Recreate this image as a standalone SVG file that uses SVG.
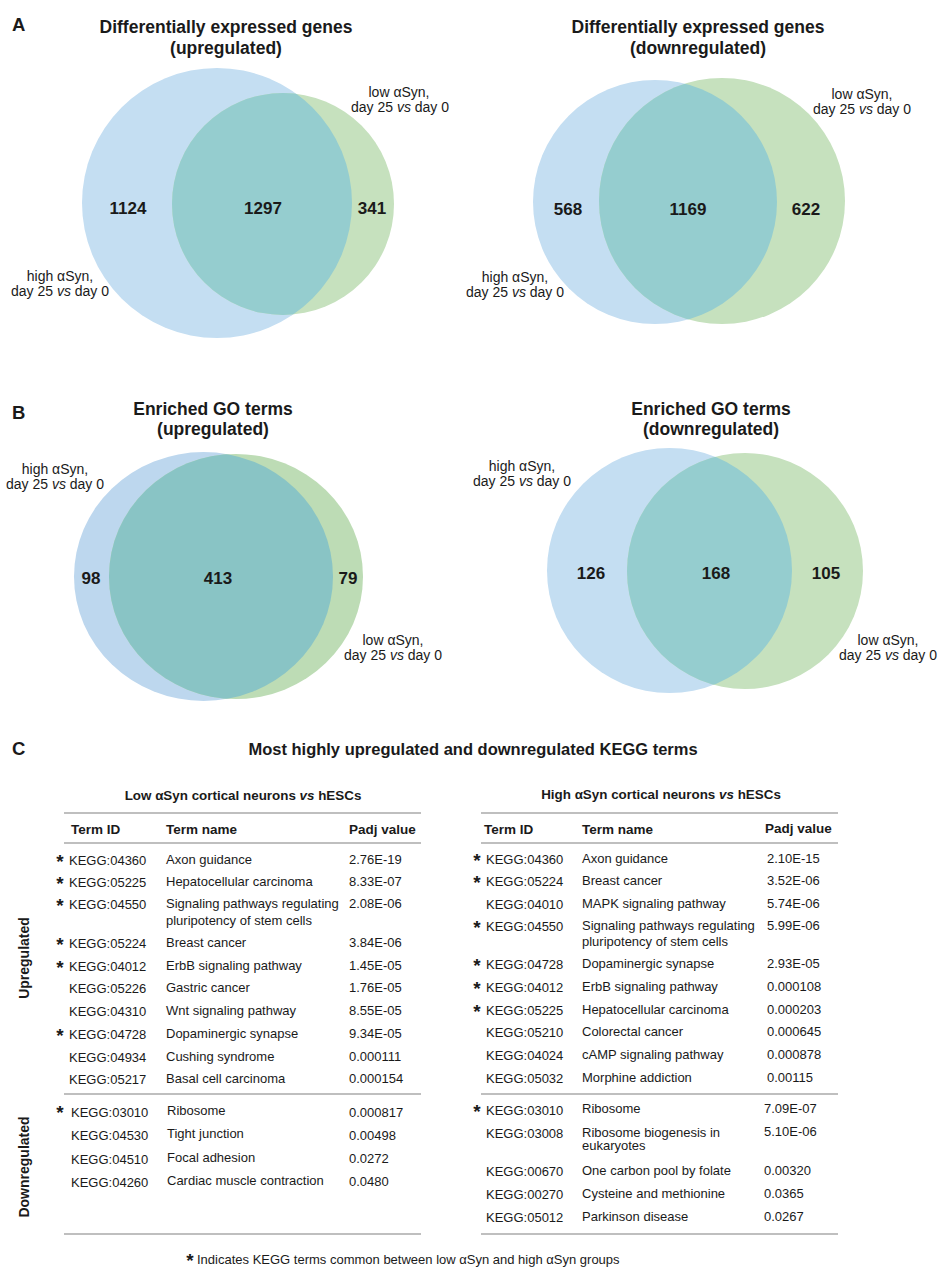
<svg xmlns="http://www.w3.org/2000/svg" width="948" height="1278" viewBox="0 0 948 1278">
<style>
text{font-family:"Liberation Sans",Arial,sans-serif;fill:#1a1a1a}
.ttl{font-size:17.5px;font-weight:bold;text-anchor:middle}
.let{font-size:18.5px;font-weight:bold}
.num{font-size:17px;font-weight:bold;text-anchor:middle}
.lab{font-size:14px;text-anchor:middle}
.sub{font-size:13.4px;font-weight:bold;text-anchor:middle}
.hd{font-size:13.5px;font-weight:bold}
.r{font-size:13px}
.st{font-size:19px;font-weight:bold;text-anchor:middle}
.vl{font-size:14px;font-weight:bold;text-anchor:middle}
.blue{fill:#c4def2}
.green{fill:#c6e1be}
.mid{fill:#95cdcf}
.rule{stroke:#aaaaaa;stroke-width:1.5;fill:none}
</style>
<defs>
<clipPath id="cA1"><circle cx="283" cy="204" r="111"/></clipPath>
<clipPath id="cA2"><circle cx="722" cy="201" r="123"/></clipPath>
<clipPath id="cB1"><ellipse cx="236" cy="576.5" rx="127" ry="122.5"/></clipPath>
<clipPath id="cB2"><circle cx="745" cy="571" r="118"/></clipPath>
</defs>
<rect width="948" height="1278" fill="#ffffff"/>

<g id="panelA-up">
<text class="let" x="12" y="31">A</text>
<text class="ttl" x="226" y="33">Differentially expressed genes</text>
<text class="ttl" x="226" y="54">(upregulated)</text>
<circle class="blue" cx="217" cy="203" r="135"/>
<circle class="green" cx="283" cy="204" r="111"/>
<circle class="mid" cx="217" cy="203" r="135" clip-path="url(#cA1)"/>
<text class="num" x="128" y="214">1124</text>
<text class="num" x="263" y="214">1297</text>
<text class="num" x="372" y="214">341</text>
<text class="lab" x="399" y="97">low αSyn,</text>
<text class="lab" x="400" y="112">day 25 <tspan font-style="italic">vs</tspan> day 0</text>
<text class="lab" x="60" y="281">high αSyn,</text>
<text class="lab" x="60" y="296">day 25 <tspan font-style="italic">vs</tspan> day 0</text>
</g>

<g id="panelA-down">
<text class="ttl" x="698" y="33">Differentially expressed genes</text>
<text class="ttl" x="698" y="54">(downregulated)</text>
<circle class="blue" cx="655" cy="202" r="122"/>
<circle class="green" cx="722" cy="201" r="123"/>
<circle class="mid" cx="655" cy="202" r="122" clip-path="url(#cA2)"/>
<text class="num" x="568" y="215">568</text>
<text class="num" x="688" y="215">1169</text>
<text class="num" x="806" y="215">622</text>
<text class="lab" x="862" y="99">low αSyn,</text>
<text class="lab" x="862" y="114">day 25 <tspan font-style="italic">vs</tspan> day 0</text>
<text class="lab" x="515" y="282">high αSyn,</text>
<text class="lab" x="515" y="297">day 25 <tspan font-style="italic">vs</tspan> day 0</text>
</g>

<g id="panelB-up">
<text class="let" x="12" y="419">B</text>
<text class="ttl" x="213" y="415">Enriched GO terms</text>
<text class="ttl" x="213" y="435">(upregulated)</text>
<ellipse cx="203.5" cy="576.5" rx="129.5" ry="124.5" fill="#bdd7ee"/>
<ellipse cx="236" cy="576.5" rx="127" ry="122.5" fill="#bddcb5"/>
<ellipse cx="203.5" cy="576.5" rx="129.5" ry="124.5" fill="#89c4c5" clip-path="url(#cB1)"/>
<text class="num" x="91" y="584">98</text>
<text class="num" x="218" y="584">413</text>
<text class="num" x="348" y="584">79</text>
<text class="lab" x="55" y="474">high αSyn,</text>
<text class="lab" x="55" y="489">day 25 <tspan font-style="italic">vs</tspan> day 0</text>
<text class="lab" x="393" y="645">low αSyn,</text>
<text class="lab" x="393" y="660">day 25 <tspan font-style="italic">vs</tspan> day 0</text>
</g>

<g id="panelB-down">
<text class="ttl" x="711" y="415">Enriched GO terms</text>
<text class="ttl" x="711" y="435">(downregulated)</text>
<circle class="blue" cx="669.5" cy="570.5" r="122.5"/>
<circle class="green" cx="745" cy="571" r="118"/>
<circle class="mid" cx="669.5" cy="570.5" r="122.5" clip-path="url(#cB2)"/>
<text class="num" x="591" y="579">126</text>
<text class="num" x="716" y="579">168</text>
<text class="num" x="826" y="579">105</text>
<text class="lab" x="522" y="471">high αSyn,</text>
<text class="lab" x="522" y="486">day 25 <tspan font-style="italic">vs</tspan> day 0</text>
<text class="lab" x="888" y="645">low αSyn,</text>
<text class="lab" x="888" y="660">day 25 <tspan font-style="italic">vs</tspan> day 0</text>
</g>

<g id="panelC-header">
<text class="let" x="12" y="755">C</text>
<text x="473" y="755" font-size="16.5" font-weight="bold" text-anchor="middle">Most highly upregulated and downregulated KEGG terms</text>
<text class="vl" transform="translate(29,958) rotate(-90)">Upregulated</text>
<text class="vl" transform="translate(29,1167) rotate(-90)">Downregulated</text>
</g>

<g id="table-low">
<text class="sub" x="243" y="800">Low αSyn cortical neurons <tspan font-style="italic">vs</tspan> hESCs</text>
<line class="rule" x1="64" y1="813" x2="421" y2="813"/>
<text class="hd" x="71" y="834">Term ID</text>
<text class="hd" x="166" y="834">Term name</text>
<text class="hd" x="349" y="834">Padj value</text>
<line class="rule" x1="64" y1="843" x2="421" y2="843"/>
<g class="r">
<text class="st" x="60" y="868">*</text><text class="r" x="69" y="865">KEGG:04360</text><text class="r" x="166" y="864">Axon guidance</text><text class="r" x="349" y="864">2.76E-19</text>
<text class="st" x="60" y="890">*</text><text class="r" x="69" y="887">KEGG:05225</text><text class="r" x="166" y="886">Hepatocellular carcinoma</text><text class="r" x="349" y="886">8.33E-07</text>
<text class="st" x="60" y="912">*</text><text class="r" x="69" y="909">KEGG:04550</text><text class="r" x="166" y="908">Signaling pathways regulating</text><text class="r" x="166" y="925">pluripotency of stem cells</text><text class="r" x="349" y="908">2.08E-06</text>
<text class="st" x="60" y="951">*</text><text class="r" x="69" y="948">KEGG:05224</text><text class="r" x="166" y="947">Breast cancer</text><text class="r" x="349" y="947">3.84E-06</text>
<text class="st" x="60" y="974">*</text><text class="r" x="69" y="971">KEGG:04012</text><text class="r" x="166" y="970">ErbB signaling pathway</text><text class="r" x="349" y="970">1.45E-05</text>
<text class="r" x="69" y="993">KEGG:05226</text><text class="r" x="166" y="992">Gastric cancer</text><text class="r" x="349" y="992">1.76E-05</text>
<text class="r" x="69" y="1016">KEGG:04310</text><text class="r" x="166" y="1015">Wnt signaling pathway</text><text class="r" x="349" y="1015">8.55E-05</text>
<text class="st" x="60" y="1042">*</text><text class="r" x="69" y="1039">KEGG:04728</text><text class="r" x="166" y="1038">Dopaminergic synapse</text><text class="r" x="349" y="1038">9.34E-05</text>
<text class="r" x="69" y="1062">KEGG:04934</text><text class="r" x="166" y="1061">Cushing syndrome</text><text class="r" x="349" y="1061">0.000111</text>
<text class="r" x="69" y="1084">KEGG:05217</text><text class="r" x="166" y="1083">Basal cell carcinoma</text><text class="r" x="349" y="1083">0.000154</text>
</g>
<line class="rule" x1="64" y1="1094" x2="421" y2="1094"/>
<g class="r">
<text class="st" x="60" y="1119">*</text><text class="r" x="71" y="1117">KEGG:03010</text><text class="r" x="167" y="1115">Ribosome</text><text class="r" x="349" y="1117">0.000817</text>
<text class="r" x="71" y="1140">KEGG:04530</text><text class="r" x="167" y="1138">Tight junction</text><text class="r" x="349" y="1140">0.00498</text>
<text class="r" x="71" y="1164">KEGG:04510</text><text class="r" x="167" y="1162">Focal adhesion</text><text class="r" x="349" y="1163">0.0272</text>
<text class="r" x="71" y="1187">KEGG:04260</text><text class="r" x="167" y="1185">Cardiac muscle contraction</text><text class="r" x="349" y="1186">0.0480</text>
</g>
<line class="rule" x1="64" y1="1234" x2="421" y2="1234"/>
</g>

<g id="table-high">
<text class="sub" x="661" y="799">High αSyn cortical neurons <tspan font-style="italic">vs</tspan> hESCs</text>
<line class="rule" x1="481" y1="813" x2="838" y2="813"/>
<text class="hd" x="484" y="834">Term ID</text>
<text class="hd" x="582" y="834">Term name</text>
<text class="hd" x="765" y="833">Padj value</text>
<line class="rule" x1="481" y1="843" x2="838" y2="843"/>
<g class="r">
<text class="st" x="477" y="867">*</text><text class="r" x="486" y="864">KEGG:04360</text><text class="r" x="582" y="863">Axon guidance</text><text class="r" x="767" y="863">2.10E-15</text>
<text class="st" x="477" y="889">*</text><text class="r" x="486" y="886">KEGG:05224</text><text class="r" x="582" y="885">Breast cancer</text><text class="r" x="767" y="885">3.52E-06</text>
<text class="r" x="486" y="909">KEGG:04010</text><text class="r" x="582" y="908">MAPK signaling pathway</text><text class="r" x="767" y="908">5.74E-06</text>
<text class="st" x="477" y="934">*</text><text class="r" x="486" y="931">KEGG:04550</text><text class="r" x="582" y="930">Signaling pathways regulating</text><text class="r" x="582" y="946">pluripotency of stem cells</text><text class="r" x="767" y="930">5.99E-06</text>
<text class="st" x="477" y="972">*</text><text class="r" x="486" y="969">KEGG:04728</text><text class="r" x="582" y="968">Dopaminergic synapse</text><text class="r" x="767" y="968">2.93E-05</text>
<text class="st" x="477" y="995">*</text><text class="r" x="486" y="992">KEGG:04012</text><text class="r" x="582" y="991">ErbB signaling pathway</text><text class="r" x="767" y="991">0.000108</text>
<text class="st" x="477" y="1018">*</text><text class="r" x="486" y="1015">KEGG:05225</text><text class="r" x="582" y="1014">Hepatocellular carcinoma</text><text class="r" x="767" y="1014">0.000203</text>
<text class="r" x="486" y="1037">KEGG:05210</text><text class="r" x="582" y="1036">Colorectal cancer</text><text class="r" x="767" y="1036">0.000645</text>
<text class="r" x="486" y="1060">KEGG:04024</text><text class="r" x="582" y="1059">cAMP signaling pathway</text><text class="r" x="767" y="1059">0.000878</text>
<text class="r" x="486" y="1083">KEGG:05032</text><text class="r" x="582" y="1082">Morphine addiction</text><text class="r" x="767" y="1082">0.00115</text>
</g>
<line class="rule" x1="481" y1="1094" x2="838" y2="1094"/>
<g class="r">
<text class="st" x="477" y="1118">*</text><text class="r" x="486" y="1115">KEGG:03010</text><text class="r" x="582" y="1113">Ribosome</text><text class="r" x="764" y="1113">7.09E-07</text>
<text class="r" x="486" y="1138">KEGG:03008</text><text class="r" x="582" y="1137">Ribosome biogenesis in</text><text class="r" x="582" y="1150">eukaryotes</text><text class="r" x="764" y="1136">5.10E-06</text>
<text class="r" x="486" y="1176">KEGG:00670</text><text class="r" x="582" y="1175">One carbon pool by folate</text><text class="r" x="764" y="1175">0.00320</text>
<text class="r" x="486" y="1199">KEGG:00270</text><text class="r" x="582" y="1198">Cysteine and methionine</text><text class="r" x="764" y="1198">0.0365</text>
<text class="r" x="486" y="1222">KEGG:05012</text><text class="r" x="582" y="1221">Parkinson disease</text><text class="r" x="764" y="1221">0.0267</text>
</g>
<line class="rule" x1="481" y1="1234" x2="838" y2="1234"/>
</g>

<g id="footnote">
<text class="st" x="190" y="1267">*</text>
<text class="r" x="197" y="1264">Indicates KEGG terms common between low αSyn and high αSyn groups</text>
</g>
</svg>
